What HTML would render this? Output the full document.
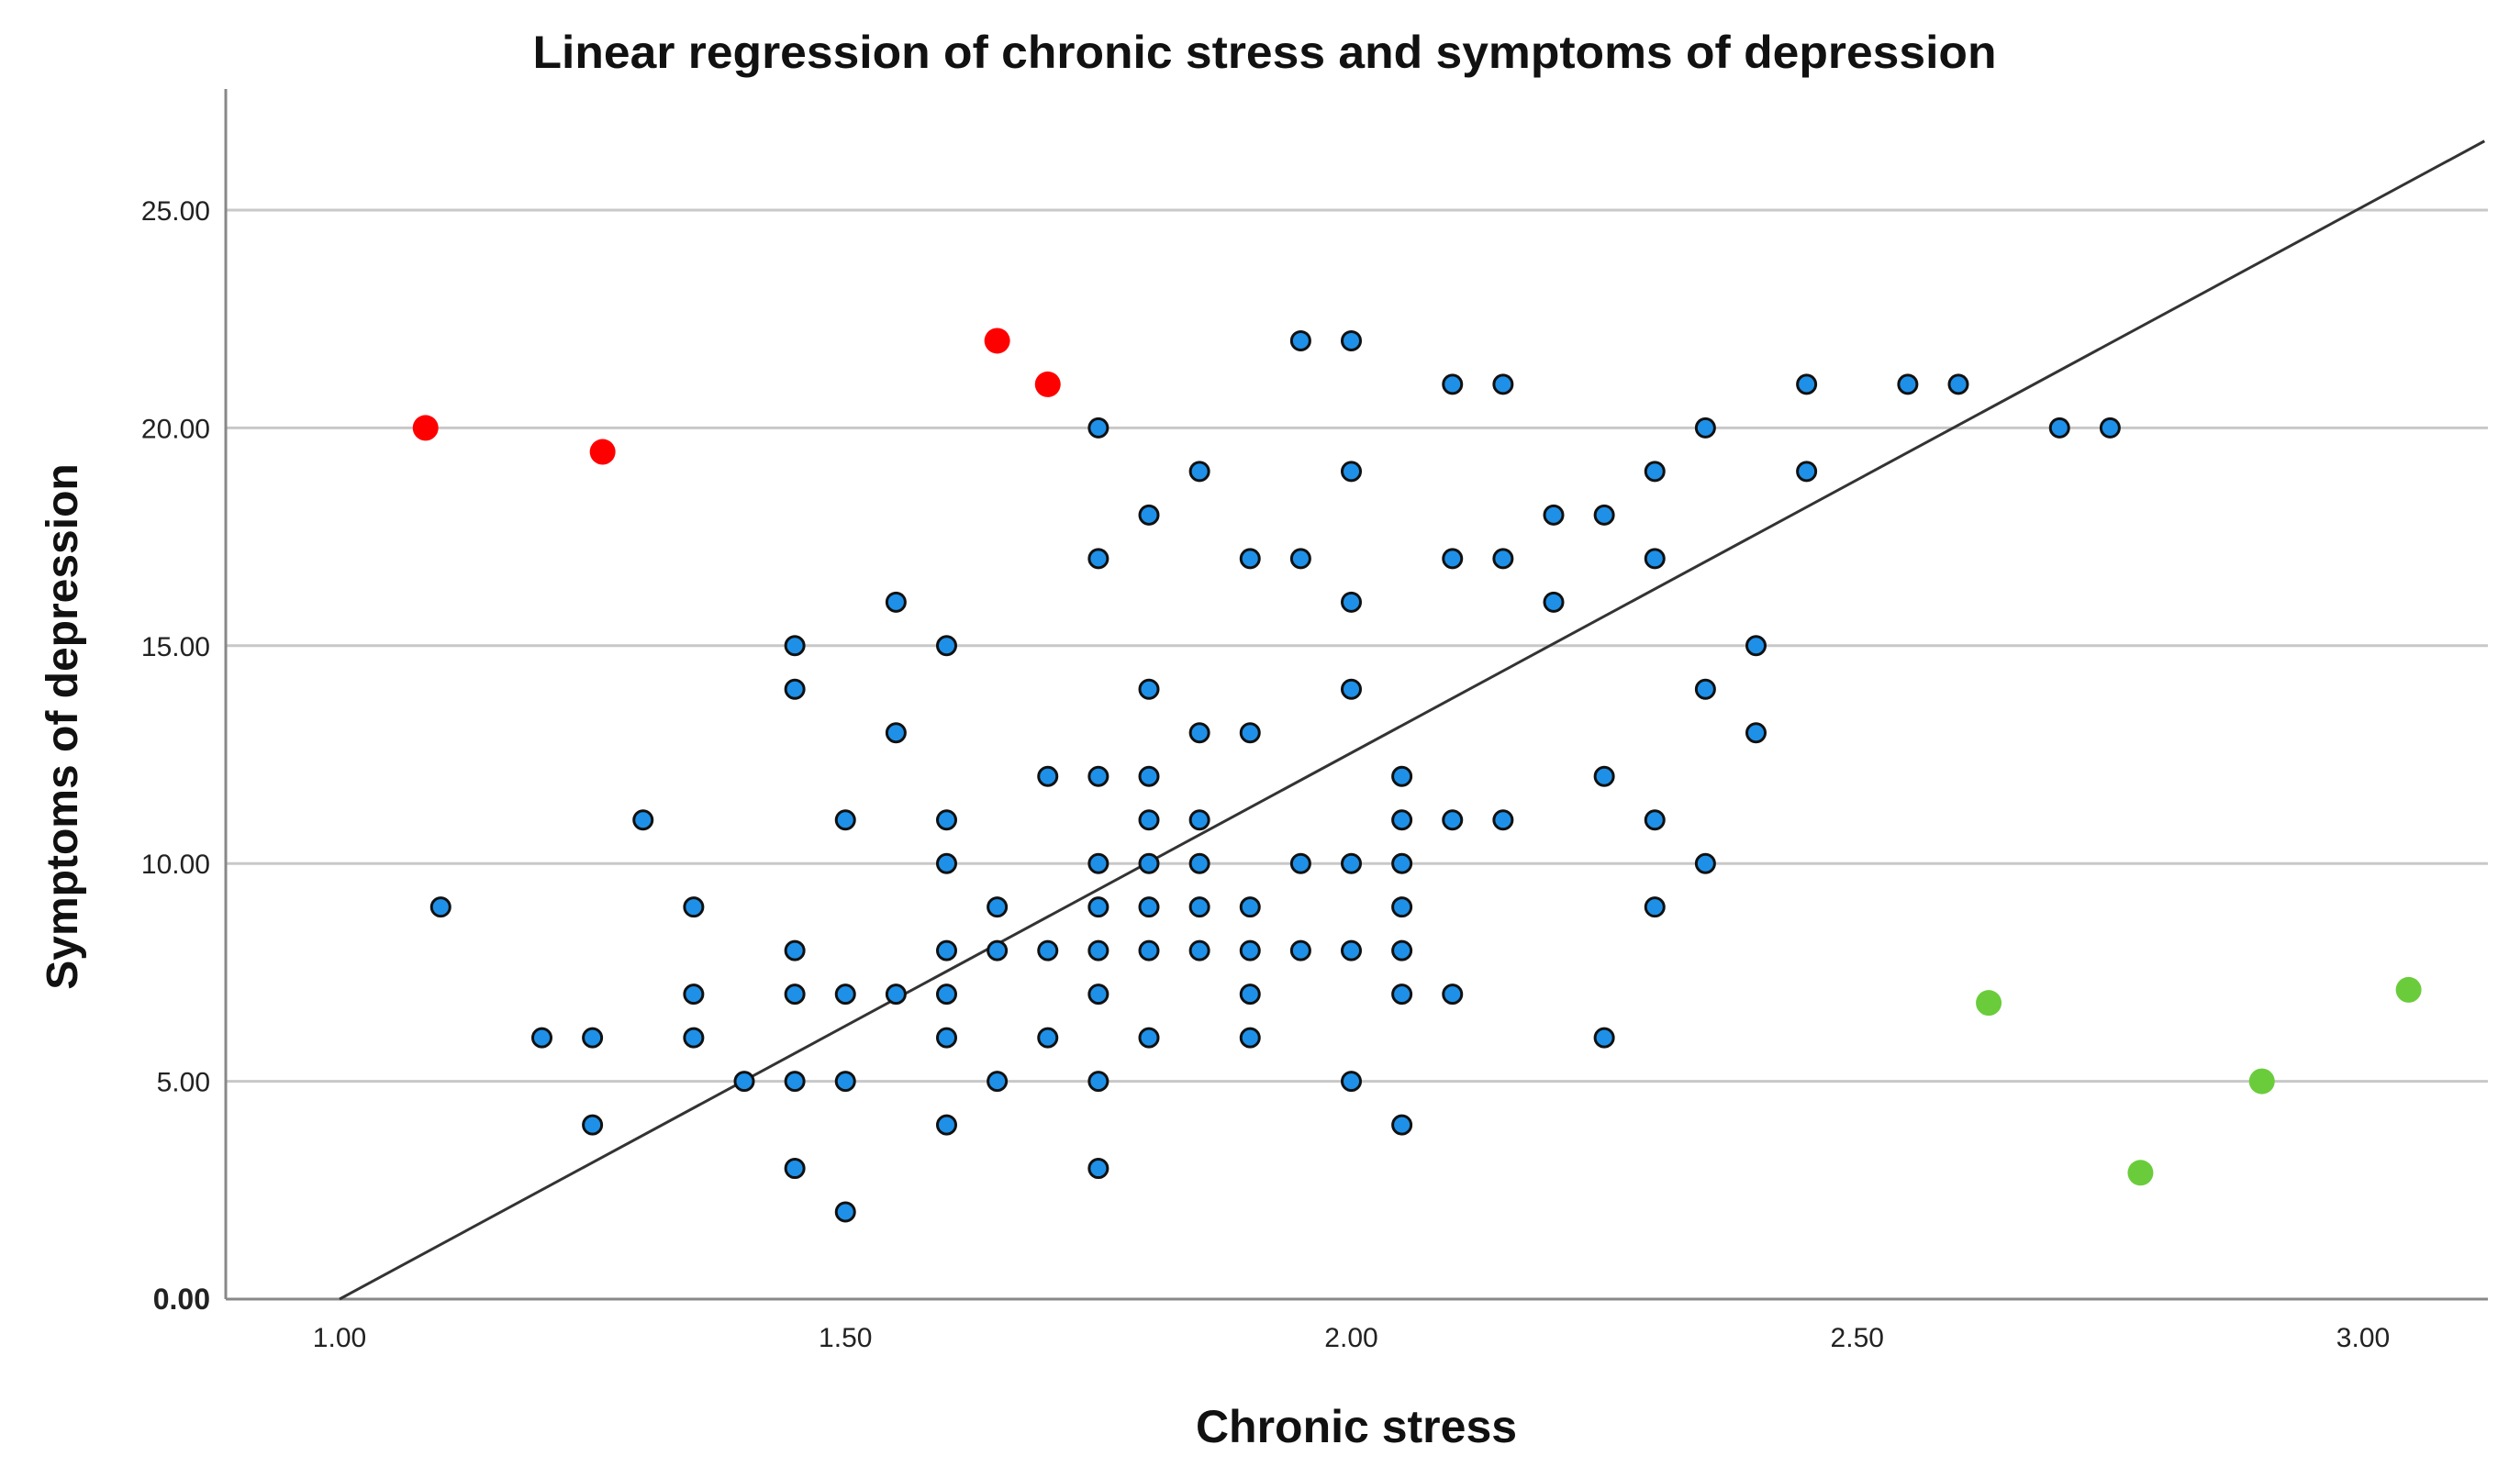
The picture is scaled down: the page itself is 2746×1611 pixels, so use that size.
<!DOCTYPE html>
<html><head><meta charset="utf-8"><style>
html,body{margin:0;padding:0;background:#fff;}
svg{display:block;font-family:"Liberation Sans",Arial,sans-serif;}
</style></head><body>
<svg id="chart" width="2746" height="1611" viewBox="0 0 2746 1611">
<text x="1378" y="74" text-anchor="middle" font-size="50" font-weight="bold" fill="#111" textLength="1595" lengthAdjust="spacingAndGlyphs">Linear regression of chronic stress and symptoms of depression</text>
<g id="grid"></g><g id="axes"></g><g id="line"></g><g id="pts"></g>
<text x="1478" y="1572" text-anchor="middle" font-size="50" font-weight="bold" fill="#111">Chronic stress</text>
<text transform="translate(84,792) rotate(-90)" text-anchor="middle" font-size="48" font-weight="bold" fill="#111">Symptoms of depression</text>
</svg>
<script>
const xTicks=[1.0,1.5,2.0,2.5,3.0];
const xTickLabels=["1.00","1.50","2.00","2.50","3.00"];
const yTicks=[0,5,10,15,20,25];
const yTickLabels=["0.00","5.00","10.00","15.00","20.00","25.00"];
const blueX=[1.10,1.20,1.25,1.25,1.30,1.35,1.35,1.35,1.40,1.45,1.45,1.45,1.45,1.45,1.45,1.50,1.50,1.50,1.50,1.55,1.55,1.55,1.60,1.60,1.60,1.60,1.60,1.60,1.60,1.65,1.65,1.65,1.70,1.70,1.70,1.75,1.75,1.75,1.75,1.75,1.75,1.75,1.75,1.75,1.80,1.80,1.80,1.80,1.80,1.80,1.80,1.80,1.85,1.85,1.85,1.85,1.85,1.85,1.90,1.90,1.90,1.90,1.90,1.90,1.95,1.95,1.95,1.95,2.00,2.00,2.00,2.00,2.00,2.00,2.00,2.05,2.05,2.05,2.05,2.05,2.05,2.05,2.10,2.10,2.10,2.10,2.15,2.15,2.15,2.20,2.20,2.25,2.25,2.25,2.30,2.30,2.30,2.30,2.35,2.35,2.35,2.40,2.40,2.45,2.45,2.55,2.60,2.70,2.75];
const blueY=[9,6,6,4,11,9,7,6,5,15,14,8,7,5,3,11,7,5,2,16,13,7,15,11,10,8,7,6,4,9,8,5,12,8,6,20,17,12,10,9,8,7,5,3,18,14,12,11,10,9,8,6,19,13,11,10,9,8,17,13,9,8,7,6,22,17,10,8,22,19,16,14,10,8,5,12,11,10,9,8,7,4,21,17,11,7,21,17,11,18,16,18,12,6,19,17,11,9,20,14,10,15,13,21,19,21,21,20,20];
const redX=[1.085,1.26,1.65,1.70];
const redY=[20,19.45,22,21];
const greenX=[2.63,2.78,2.90,3.045];
const greenY=[6.8,2.9,5,7.1];
const fitSlope=12.54, fitIntercept=-12.54;
const NS="http://www.w3.org/2000/svg";
const X=v=>370+(v-1)*1102.5;
const Y=v=>1416-v*47.48;
function mk(tag,attrs,parent){const e=document.createElementNS(NS,tag);for(const k in attrs)e.setAttribute(k,attrs[k]);document.getElementById(parent).appendChild(e);return e;}
yTicks.forEach((t,i)=>{
 if(t>0){const g=mk('line',{x1:246,x2:2711,y1:Y(t),y2:Y(t),stroke:'#c8c8c8','stroke-width':3},'grid');
 
 }
 const l=mk('text',{x:229,y:Y(t)+11,'text-anchor':'end','font-size':t===0?32:30,'font-weight':t===0?'bold':'normal',fill:'#222'},'axes');
 l.textContent=yTickLabels[i];
 
 
});
xTicks.forEach((t,i)=>{
 const l=mk('text',{x:X(t),y:1468,'text-anchor':'middle','font-size':30,fill:'#222'},'axes');
 l.textContent=xTickLabels[i];
 
 
});
const ya=mk('line',{x1:246,x2:246,y1:97,y2:Y(0),stroke:'#888','stroke-width':3},'axes');


const xa=mk('line',{x1:246,x2:2711,y1:Y(0),y2:Y(0),stroke:'#888','stroke-width':3},'axes');


const x0=1.0,x1=3.12;
const fl=mk('line',{x1:X(x0),y1:Y(fitSlope*x0+fitIntercept),x2:X(x1),y2:Y(fitSlope*x1+fitIntercept),stroke:'#333','stroke-width':3},'line');


blueX.forEach((v,i)=>{
 const c=mk('circle',{cx:X(v),cy:Y(blueY[i]),r:10,fill:'#1e90e8',stroke:'#111','stroke-width':3},'pts');
 
 
});
redX.forEach((v,i)=>{
 const c=mk('circle',{cx:X(v),cy:Y(redY[i]),r:14,fill:'#ff0000'},'pts');
 
 
});
greenX.forEach((v,i)=>{
 const c=mk('circle',{cx:X(v),cy:Y(greenY[i]),r:14,fill:'#6acc3a'},'pts');
 
 
});
</script>
</body></html>
